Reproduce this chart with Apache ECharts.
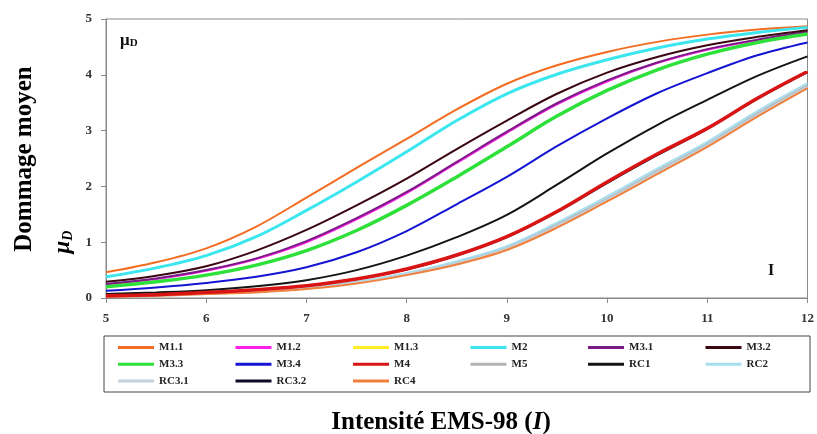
<!DOCTYPE html>
<html>
<head>
<meta charset="utf-8">
<script src="https://cdn.jsdelivr.net/npm/echarts@6/dist/echarts.min.js"></script>
<style>
html,body{margin:0;padding:0;background:#fff;}
#chart{width:817px;height:434px;}
</style>
</head>
<body>
<div id="chart"></div>
<script>
// intensité EMS-98
var intensity = [5, 5.5, 6, 6.5, 7, 7.5, 8, 8.5, 9, 9.5, 10, 10.5, 11, 11.5, 12];
var yTicks = [0, 1, 2, 3, 4, 5];

var names = ['M1.1','M1.2','M1.3','M2','M3.1','M3.2','M3.3','M3.4','M4','M5','RC1','RC2','RC3.1','RC3.2','RC4'];
var colors = ['#f26d21','#ff1fe8','#ffee22','#3ce6ee','#7a1a86','#3a0612','#2ee03a','#1414d2','#d81414','#b4b4b4','#141414','#a6def0','#c4d2dc','#0c0c26','#f0803c'];

// valeurs
var m11  = [0.46,0.64,0.89,1.28,1.80,2.33,2.85,3.38,3.84,4.17,4.41,4.59,4.72,4.81,4.87];
var m12  = [0.24,0.34,0.49,0.70,1.00,1.41,1.88,2.42,2.96,3.47,3.88,4.21,4.45,4.62,4.76];
var m13  = [0.20,0.29,0.41,0.59,0.85,1.21,1.66,2.17,2.71,3.26,3.72,4.09,4.37,4.58,4.73];
var m2   = [0.38,0.54,0.76,1.10,1.57,2.08,2.62,3.18,3.66,4.01,4.27,4.48,4.64,4.76,4.85];
var m31  = [0.25,0.35,0.50,0.71,1.02,1.43,1.90,2.44,2.98,3.49,3.90,4.22,4.46,4.63,4.77];
var m32  = [0.29,0.40,0.57,0.85,1.22,1.66,2.14,2.67,3.18,3.66,4.04,4.32,4.53,4.68,4.80];
var m33  = [0.20,0.29,0.41,0.59,0.85,1.21,1.66,2.17,2.71,3.26,3.72,4.09,4.37,4.58,4.73];
var m34  = [0.13,0.19,0.27,0.38,0.55,0.82,1.20,1.68,2.17,2.72,3.22,3.67,4.03,4.35,4.58];
var m4   = [0.04,0.06,0.10,0.15,0.22,0.34,0.52,0.77,1.10,1.55,2.08,2.58,3.04,3.58,4.06];
var m5   = [0.03,0.05,0.08,0.12,0.18,0.28,0.44,0.64,0.91,1.32,1.78,2.28,2.76,3.31,3.81];
var rc1  = [0.07,0.10,0.14,0.21,0.32,0.50,0.76,1.09,1.49,2.03,2.59,3.10,3.55,3.98,4.33];
var rc2  = [0.03,0.05,0.08,0.12,0.18,0.29,0.45,0.66,0.93,1.35,1.82,2.32,2.80,3.35,3.85];
var rc31 = [0.02,0.04,0.07,0.11,0.17,0.27,0.43,0.62,0.89,1.29,1.76,2.25,2.74,3.28,3.79];
var rc32 = [0.04,0.06,0.10,0.15,0.22,0.34,0.51,0.76,1.09,1.54,2.06,2.56,3.03,3.57,4.05];
var rc4  = [0.02,0.04,0.07,0.10,0.16,0.26,0.41,0.60,0.86,1.26,1.73,2.22,2.71,3.25,3.76];

var values = [m11,m12,m13,m2,m31,m32,m33,m34,m4,m5,rc1,rc2,rc31,rc32,rc4];
var widths = [2,2,2,3,2,2,3.5,2,3.5,2,2,2,2,2,2];

var serif = '"Liberation Serif","DejaVu Serif",serif';

var chart = echarts.init(document.getElementById('chart'));

var series = names.map(function(n,i){
    return {
        name: n,
        type: 'line',
        smooth: 0.35,
        symbol: 'none',
        z: n === 'M4' ? 4 : 2,
        lineStyle: {color: colors[i], width: widths[i]},
        itemStyle: {color: colors[i]},
        data: intensity.map(function(x,k){ return [x, values[i][k]]; })
    };
});

// une légende par item pour garder des colonnes régulières
var legends = names.map(function(n,i){
    return {
        data: [n],
        left: 118 + (i % 6) * 117.5,
        top: 342 + Math.floor(i / 6) * 16.7,
        padding: 0,
        icon: 'rect',
        itemWidth: 36,
        itemHeight: 3,
        itemGap: 0,
        textStyle: {fontFamily: serif, fontWeight: 'bold', fontSize: 11, color: '#222'}
    };
});

chart.setOption({
    animation: false,
    backgroundColor: '#fff',
    grid: {left: 106, right: 9, top: 19, bottom: 136, show: true, borderColor: '#8a8a8a', borderWidth: 1},
    legend: legends,
    xAxis: {
        type: 'value',
        min: 5, max: 12, interval: 1,
        axisLine: {lineStyle: {color: '#8a8a8a'}},
        axisTick: {show: true, length: 5, lineStyle: {color: '#8a8a8a'}},
        splitLine: {show: false},
        axisLabel: {margin: 14, fontFamily: serif, fontWeight: 'bold', fontSize: 13, color: '#333'}
    },
    yAxis: {
        type: 'value',
        min: yTicks[0], max: yTicks[yTicks.length-1], interval: 1,
        axisLine: {show: true, lineStyle: {color: '#8a8a8a'}},
        axisTick: {show: true, length: 5, lineStyle: {color: '#8a8a8a'}},
        splitLine: {show: false},
        axisLabel: {margin: 14, fontFamily: serif, fontWeight: 'bold', fontSize: 13, color: '#333'}
    },
    graphic: [
        {type: 'rect', shape: {x: 104, y: 336, width: 706, height: 56}, style: {fill: 'none', stroke: '#444', lineWidth: 1}},
        {type: 'text', x: 25, y: 159, rotation: Math.PI/2,
         style: {text: 'Dommage moyen', font: 'bold 25px ' + serif, fill: '#000', align: 'center', verticalAlign: 'middle'}},
        {type: 'text', x: 63, y: 242, rotation: Math.PI/2,
         style: {text: '{m|μ}{d|D}', align: 'center', verticalAlign: 'middle',
                 rich: {m: {font: 'italic bold 23px ' + serif, fill: '#000'},
                        d: {font: 'italic bold 14px ' + serif, fill: '#000', padding: [10,0,0,0]}}}},
        {type: 'text', x: 120, y: 41,
         style: {text: '{m|μ}{d|D}', verticalAlign: 'middle',
                 rich: {m: {font: 'bold 17px ' + serif, fill: '#111'},
                        d: {font: 'bold 11px ' + serif, fill: '#111', padding: [5,0,0,0]}}}},
        {type: 'text', x: 771, y: 271,
         style: {text: 'I', font: 'bold 16px ' + serif, fill: '#111', align: 'center', verticalAlign: 'middle'}},
        {type: 'text', x: 441, y: 423,
         style: {text: '{b|Intensité EMS-98 (}{i|I}{b|)}', align: 'center', verticalAlign: 'middle',
                 rich: {b: {font: 'bold 25px ' + serif, fill: '#000'},
                        i: {font: 'italic bold 25px ' + serif, fill: '#000'}}}}
    ],
    series: series
});
</script>
</body>
</html>
